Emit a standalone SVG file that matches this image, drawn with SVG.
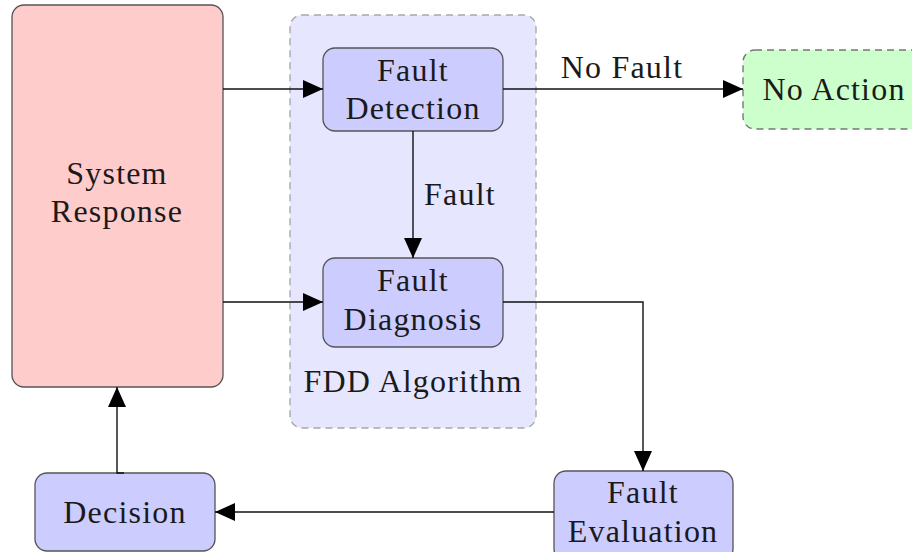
<svg xmlns="http://www.w3.org/2000/svg" width="912" height="552" viewBox="0 0 912 552">
<style>
text{font-family:"Liberation Serif","Times New Roman",serif;font-size:32px;letter-spacing:1.2px;fill:#1a1a1a;text-anchor:middle}
.blue{fill:#ccccff;stroke:#555;stroke-width:1.3}
.line{fill:none;stroke:#111;stroke-width:1.4}
</style>
<defs>
<marker id="ah" viewBox="0 0 20 18" refX="20" refY="9" markerWidth="20" markerHeight="18" markerUnits="userSpaceOnUse" orient="auto">
<path d="M0,0 L20,9 L0,18 Z" fill="#000"/>
</marker>
</defs>
<g id="fdd">
<rect x="290" y="15" width="246" height="413" rx="12" fill="#e6e6ff" stroke="#a8a8a8" stroke-width="1.4" stroke-dasharray="7,5"/>
<text x="413" y="392">FDD Algorithm</text>
</g>
<g id="system">
<rect x="12" y="5" width="211" height="382" rx="12" fill="#ffcccc" stroke="#555" stroke-width="1.3"/>
<text x="117" y="184">System</text>
<text x="117" y="222">Response</text>
</g>
<g id="detection">
<rect class="blue" x="323" y="48" width="180" height="83" rx="12"/>
<text x="413" y="81">Fault</text>
<text x="413" y="119">Detection</text>
</g>
<g id="diagnosis">
<rect class="blue" x="323" y="258" width="180" height="89" rx="12"/>
<text x="413" y="291">Fault</text>
<text x="413" y="330">Diagnosis</text>
</g>
<g id="noaction">
<rect x="743" y="50" width="180" height="79" rx="12" fill="#ccffcc" stroke="#777" stroke-width="1.4" stroke-dasharray="7,5"/>
<text x="834" y="100">No Action</text>
</g>
<g id="decision">
<rect class="blue" x="35" y="473" width="180" height="78" rx="12"/>
<text x="125" y="523">Decision</text>
</g>
<g id="evaluation">
<rect class="blue" x="554" y="471" width="179" height="90" rx="12"/>
<text x="643" y="503">Fault</text>
<text x="643" y="542">Evaluation</text>
</g>
<g id="connectors">
<line class="line" x1="223" y1="89" x2="323" y2="89" marker-end="url(#ah)"/>
<line class="line" x1="223" y1="302" x2="323" y2="302" marker-end="url(#ah)"/>
<line class="line" x1="503" y1="89" x2="743" y2="89" marker-end="url(#ah)"/>
<text x="622" y="78">No Fault</text>
<line class="line" x1="413" y1="131" x2="413" y2="258" marker-end="url(#ah)"/>
<text x="460" y="205">Fault</text>
<polyline class="line" points="503,302 643,302 643,471" marker-end="url(#ah)"/>
<line class="line" x1="554" y1="512" x2="215" y2="512" marker-end="url(#ah)"/>
<polyline class="line" points="124,473 117,473 117,387" marker-end="url(#ah)"/>
</g>
</svg>
